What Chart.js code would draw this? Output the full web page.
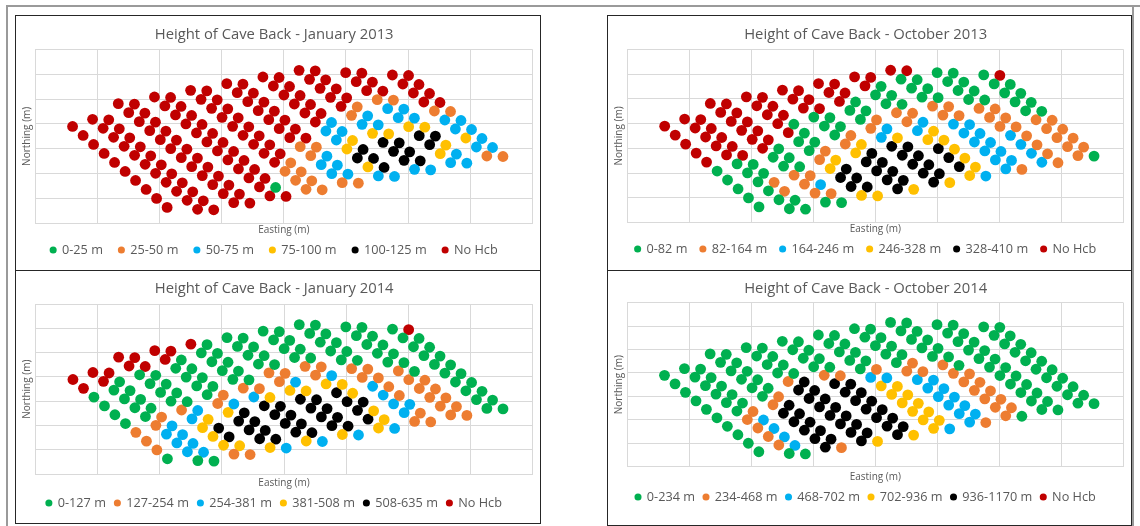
<!DOCTYPE html>
<html>
<head>
<meta charset="utf-8">
<script src="https://cdn.jsdelivr.net/npm/chart.js@4.4.1/dist/chart.umd.min.js"></script>
<style>
  html, body { margin: 0; padding: 0; background: #fff; }
  body { width: 1140px; height: 526px; position: relative; overflow: hidden; }
  .gray { position: absolute; background: #9a9a9a; }
  .panel { position: absolute; box-sizing: border-box; border: 1px solid #262626; background: #fff; }
  .panel canvas { display: block; }
</style>
</head>
<body>
<div class="gray" style="left:6px;top:5px;width:1134px;height:2px"></div>
<div class="gray" style="left:6px;top:5px;width:2px;height:521px"></div>
<div class="gray" style="left:1132px;top:5px;width:2px;height:521px"></div>

<div class="panel" style="left:15px;top:15px;width:526px;height:256px"><canvas id="jan2013"></canvas></div>
<div class="panel" style="left:607px;top:15px;width:525px;height:256px"><canvas id="oct2013"></canvas></div>
<div class="panel" style="left:15px;top:270px;width:526px;height:254px"><canvas id="jan2014"></canvas></div>
<div class="panel" style="left:607px;top:270px;width:525px;height:256px"><canvas id="oct2014"></canvas></div>

<script>
// drawpoint layout, one source line per drive side (same points in all four charts)
const eastings = [
  30.0, 38.5, 46.9, 55.4, 63.8, 72.3, 80.7, 89.2, 97.6, 106.1,
  46.1, 54.6, 63.0, 71.5, 79.9, 88.4, 96.8, 105.3, 113.7, 122.2, 130.6,
  59.1, 67.6, 76.0, 84.5, 92.9, 101.4, 109.8, 118.3, 126.7, 135.2, 143.6,
  66.8, 75.2, 83.7, 92.1, 100.6, 109.0, 117.5, 125.9, 134.4, 142.8, 151.3, 159.7,
  79.8, 88.2, 96.7, 105.1, 113.6, 122.0, 130.5, 138.9, 147.4, 155.8, 164.3, 172.7,
  95.9, 104.3, 112.8, 121.2, 129.7, 138.1, 146.6, 155.0, 163.5, 171.9, 180.4, 188.8,
  108.9, 117.3, 125.8, 134.2, 142.7, 151.1, 159.6, 168.0, 176.5, 184.9, 193.4, 201.8,
  125.0, 133.4, 141.9, 150.3, 158.8, 167.2, 175.7, 184.1, 192.6, 201.0, 209.5, 217.9,
  138.0, 146.4, 154.9, 163.3, 171.8, 180.2, 188.7, 197.1, 205.6, 214.0, 222.5, 230.9,
  154.1, 162.5, 171.0, 179.4, 187.9, 196.3, 204.8, 213.2, 221.7, 230.1, 238.6, 247.0,
  167.1, 175.5, 184.0, 192.4, 200.9, 209.3, 217.8, 226.2, 234.7, 243.1, 251.6, 260.0,
  183.2, 191.6, 200.1, 208.5, 217.0, 225.4, 233.9, 242.3, 250.8, 259.2, 267.7, 276.1,
  196.2, 204.6, 213.1, 221.5, 230.0, 238.4, 246.9, 255.3, 263.8, 272.2, 280.7, 289.1,
  212.3, 220.7, 229.2, 237.6, 246.1, 254.5, 263.0, 271.4, 279.9, 288.3, 296.8, 305.2,
  225.3, 233.7, 242.2, 250.6, 259.1, 267.5, 276.0, 284.4, 292.9, 301.3, 309.8, 318.2,
  249.8, 258.3, 266.7, 275.2, 283.6, 292.1, 300.5, 309.0, 317.4, 325.9, 334.3,
  262.8, 271.3, 279.7, 288.2, 296.6, 305.1, 313.5, 322.0, 330.4, 338.9, 347.3,
  287.4, 295.8, 304.3, 312.7, 321.2, 329.6, 338.1, 346.5, 355.0, 363.4,
  300.4, 308.8, 317.3, 325.7, 334.2, 342.6, 351.1, 359.5, 368.0, 376.4
];
const northings = [
  194.8, 176.7, 158.6, 140.5, 122.4, 104.3, 86.2, 68.1, 50.0, 31.9,
  209.2, 191.1, 173.0, 154.9, 136.8, 118.7, 100.6, 82.5, 64.4, 46.3, 28.2,
  208.2, 190.1, 172.0, 153.9, 135.8, 117.7, 99.6, 81.5, 63.4, 45.3, 27.2,
  240.7, 222.6, 204.5, 186.4, 168.3, 150.2, 132.1, 114.0, 95.9, 77.8, 59.7, 41.6,
  239.7, 221.6, 203.5, 185.4, 167.3, 149.2, 131.1, 113.0, 94.9, 76.8, 58.7, 40.6,
  254.1, 236.0, 217.9, 199.8, 181.7, 163.6, 145.5, 127.4, 109.3, 91.2, 73.1, 55.0,
  253.1, 235.0, 216.9, 198.8, 180.7, 162.6, 144.5, 126.4, 108.3, 90.2, 72.1, 54.0,
  267.5, 249.4, 231.3, 213.2, 195.1, 177.0, 158.9, 140.8, 122.7, 104.6, 86.5, 68.4,
  266.5, 248.4, 230.3, 212.2, 194.1, 176.0, 157.9, 139.8, 121.7, 103.6, 85.5, 67.4,
  280.9, 262.8, 244.7, 226.6, 208.5, 190.4, 172.3, 154.2, 136.1, 118.0, 99.9, 81.8,
  279.9, 261.8, 243.7, 225.6, 207.5, 189.4, 171.3, 153.2, 135.1, 117.0, 98.9, 80.8,
  294.3, 276.2, 258.1, 240.0, 221.9, 203.8, 185.7, 167.6, 149.5, 131.4, 113.3, 95.2,
  293.3, 275.2, 257.1, 239.0, 220.9, 202.8, 184.7, 166.6, 148.5, 130.4, 112.3, 94.2,
  307.7, 289.6, 271.5, 253.4, 235.3, 217.2, 199.1, 181.0, 162.9, 144.8, 126.7, 108.6,
  306.7, 288.6, 270.5, 252.4, 234.3, 216.2, 198.1, 180.0, 161.9, 143.8, 125.7, 107.6,
  303.0, 284.9, 266.8, 248.7, 230.6, 212.5, 194.4, 176.3, 158.2, 140.1, 122.0,
  302.0, 283.9, 265.8, 247.7, 229.6, 211.5, 193.4, 175.3, 157.2, 139.1, 121.0,
  298.3, 280.2, 262.1, 244.0, 225.9, 207.8, 189.7, 171.6, 153.5, 135.4,
  297.3, 279.2, 261.1, 243.0, 224.9, 206.8, 188.7, 170.6, 152.5, 134.4
];

// class of each drawpoint, same order as above
// G 1st class, O 2nd, B 3rd, Y 4th, K 5th, R no Hcb
const jan2013Classes = [
  "RRRRRRRRRR", "RRRRRRRRRRR", "RRRRRRRRRRR",
  "RRRRRRRRRRRR", "RRRRRRRRRRRR", "RRRRRRRRRRRR", "RRRRRRRRRRGR",
  "RRRRRRRRROOO", "RRRRRRRROOOO", "RRRRRRROOBBO", "RRRRRRROBBBO",
  "RRRRRRBBYKYB", "RRRRRBBYKKKB", "RRRRROBYKKKB", "RRRROBBYKKKB",
  "RRROBBYKKYB", "RRROBBYKYBB", "RRRROBBYBO", "RRRROBBBBO"
];
const oct2013Classes = [
  "RRRRRGGGGG", "RRRRRGGGGGG", "RRRRRGGOOGG",
  "RRRRRRGGOOOG", "RRRRRGGGOBOG", "RRRRRGGOYKKY", "RRRGGGOYKKKY",
  "RRRGGGOYKKKK", "RRRGGOYKKKKY", "RRRGGOBKKKKK", "RRGGOBYKKKKY",
  "RRGGOOBYKKKY", "RGGGOBYYYYYB", "RGGGOOBBBBBB", "RGGGOOBBBBBO",
  "GGGGOOOBBBB", "GGGGOOOOOOO", "GGGGGOOOOO", "RGGGGOOOOG"
];
const jan2014Classes = [
  "RRGGGGOOOG", "RRGGGGOBBBG", "RGGGGOBBBBG",
  "RRGGGGOBYYYO", "RRGGGGBYKKYO", "RRGGGGOYKKKY", "RGGGGOBKKKKB",
  "RGGGGOBKKKKY", "GGGGGOYKKKKB", "GGGGOOYKKKKY", "GGGGOBYKKKKB",
  "GGGGOOYKKKKY", "GGGGOBYYKYYB", "GGGGGOOBBBBO", "GGGGGOOOOBOO",
  "GGGGGOOOOOO", "GGGGGGOOOOO", "GGGGGGGGGG", "RGGGGGGGGG"
];
const oct2014Classes = [
  "GGGGGGGGGG", "GGGGGGOOOOG", "GGGGGOBBBBG",
  "GGGGGGOKKKKK", "GGGGGOKKKKKO", "GGGGOKKKKKKK", "GGGGKKKKKKKY",
  "GGGGOKKKKKKK", "GGGGOKKKKKKY", "GGGGGBYYYYYY", "GGGGOBYYYYYB",
  "GGGGGOBBBBBB", "GGGGOOBBBBBO", "GGGGGOOOOOOO", "GGGGGGOOOOOG",
  "GGGGGGGGGGG", "GGGGGGGGGGG", "GGGGGGGGGG", "GGGGGGGGGG"
];

const jan2013Labels = ["0-25 m", "25-50 m", "50-75 m", "75-100 m", "100-125 m", "No Hcb"];
const oct2013Labels = ["0-82 m", "82-164 m", "164-246 m", "246-328 m", "328-410 m", "No Hcb"];
const jan2014Labels = ["0-127 m", "127-254 m", "254-381 m", "381-508 m", "508-635 m", "No Hcb"];
const oct2014Labels = ["0-234 m", "234-468 m", "468-702 m", "702-936 m", "936-1170 m", "No Hcb"];

const classCodes = "GOBYKR";
const classColors = ["#00B050", "#ED7D31", "#00B0F0", "#FFC000", "#000000", "#C00000"];

const textGray = "#595959";
const gridGray = "#d9d9d9";
Chart.defaults.font.family = '"Open Sans", "Liberation Sans", sans-serif';

function buildDatasets(labels, classRows) {
  const cls = classRows.join("");
  return labels.map((label, c) => {
    const pts = [];
    for (let i = 0; i < eastings.length; i++) {
      if (cls[i] === classCodes[c]) pts.push({ x: eastings[i], y: northings[i] });
    }
    return {
      label,
      data: pts,
      backgroundColor: classColors[c],
      borderColor: classColors[c],
      borderWidth: 0,
      pointRadius: 5.4,
      pointHoverRadius: 5.4,
      pointStyle: "circle",
    };
  });
}

function makeChart(id, title, labels, classRows, g) {
  const canvas = document.getElementById(id);
  canvas.width = g.w;
  canvas.height = g.h;
  canvas.style.width = g.w + "px";
  canvas.style.height = g.h + "px";

  new Chart(canvas, {
    type: "scatter",
    data: { datasets: buildDatasets(labels, classRows) },
    options: {
      responsive: false,
      animation: false,
      events: [],
      layout: { padding: { left: 0, right: g.right, top: 0, bottom: g.bottom } },
      plugins: {
        title: {
          display: true,
          text: title,
          color: textGray,
          font: { size: 14.8, weight: "normal" },
          padding: { top: g.titleTop, bottom: g.titleBottom },
        },
        legend: {
          position: "bottom",
          labels: {
            usePointStyle: true,
            boxWidth: 5,
            boxHeight: 5,
            padding: g.legendGap,
            color: textGray,
            font: { size: 12.7 },
          },
        },
        tooltip: { enabled: false },
      },
      scales: {
        x: {
          type: "linear",
          min: 0,
          max: 400,
          ticks: { display: false, stepSize: 50 },
          grid: { color: gridGray, drawTicks: false },
          border: { color: gridGray },
          title: { display: true, text: "Easting (m)", color: textGray, font: { size: 10 }, padding: { top: 0, bottom: g.xTitlePad } },
          afterFit: (s) => { s.height = g.xAxisH; },
        },
        y: {
          type: "linear",
          min: 0,
          max: 350,
          ticks: { display: false, stepSize: 50 },
          grid: { color: gridGray, drawTicks: false },
          border: { color: gridGray },
          title: { display: true, text: "Northing (m)", color: textGray, font: { size: 10 }, padding: { top: 5, bottom: 0 } },
          afterFit: (s) => { s.width = g.yAxisW; },
        },
      },
    },
  });
}

makeChart("jan2013", "Height of Cave Back - January 2013", jan2013Labels, jan2013Classes,
  { w: 524, h: 254, right: 7.7, bottom: 3.65, titleTop: 9.5, titleBottom: 6.04, legendGap: 16, xAxisH: 4.35, xTitlePad: -8.35, yAxisW: 19.3 });
makeChart("oct2013", "Height of Cave Back - October 2013", oct2013Labels, oct2013Classes,
  { w: 523, h: 254, right: 7.7, bottom: 4.65, titleTop: 9.5, titleBottom: 6.04, legendGap: 13, xAxisH: 6.95, xTitlePad: -5.85, yAxisW: 19.5 });
makeChart("jan2014", "Height of Cave Back - January 2014", jan2014Labels, jan2014Classes,
  { w: 524, h: 252, right: 7.7, bottom: 3.65, titleTop: 9, titleBottom: 6.24, legendGap: 9, xAxisH: 13.35, xTitlePad: -1.35, yAxisW: 19.7 });
makeChart("oct2014", "Height of Cave Back - October 2014", oct2014Labels, oct2014Classes,
  { w: 523, h: 254, right: 7.7, bottom: 11.65, titleTop: 9, titleBottom: 4.84, legendGap: 8.5, xAxisH: 15.45, xTitlePad: -0.85, yAxisW: 19.3 });
</script>
</body>
</html>
